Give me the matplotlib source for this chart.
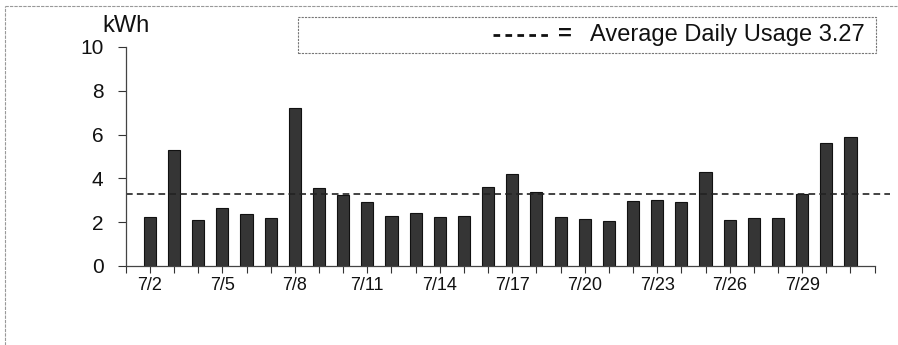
import matplotlib
matplotlib.use('Agg')
import matplotlib.pyplot as plt
from matplotlib.patches import Rectangle

# Dzienne zuzycie energii (kWh), lipiec
days = list(range(2, 32))
usage = [2.23, 5.30, 2.12, 2.65, 2.39, 2.20, 7.20, 3.56, 3.26, 2.91,
         2.27, 2.41, 2.24, 2.27, 3.62, 4.22, 3.36, 2.24, 2.15, 2.05,
         2.98, 3.03, 2.92, 4.30, 2.10, 2.20, 2.20, 3.30, 5.60, 5.90]
average = 3.27
label_days = [2, 5, 8, 11, 14, 17, 20, 23, 26, 29]
tick_labels = ['7/%d' % d for d in label_days]

plt.rcParams['font.family'] = ['Liberation Sans', 'DejaVu Sans']

fig = plt.figure(figsize=(8.98, 3.45), dpi=100)
ax = fig.add_axes([0.140, 0.229, 0.834, 0.635])

ax.bar(days, usage, width=0.5, color='#353535', edgecolor='#111111', linewidth=0.8)
ax.axhline(average, xmin=0, xmax=1.02, color='#222222', linestyle=(0, (4, 2.5)),
           linewidth=1.2, clip_on=False)

ax.set_xlim(1, 32)
ax.set_ylim(0, 10)
ax.set_yticks([0, 2, 4, 6, 8, 10])
ax.set_xticks(label_days)
ax.set_xticklabels(tick_labels)
ax.set_xticks(range(1, 33), minor=True)
ax.tick_params(axis='x', which='both', direction='out', length=5, width=0.8,
               colors='#333333', labelsize=13, labelcolor='#111111', pad=3)
ax.tick_params(axis='y', direction='out', length=6, width=0.8,
               colors='#333333', labelsize=15, labelcolor='#111111', pad=10)

for s in ['top', 'right']:
    ax.spines[s].set_visible(False)
for s in ['left', 'bottom']:
    ax.spines[s].set_color('#444444')
    ax.spines[s].set_linewidth(0.9)

fig.text(0.140, 0.925, 'kWh', fontsize=17, ha='center', va='center', color='#111111')

# ramka legendy
fig.patches.append(Rectangle((0.332, 0.846), 0.643, 0.104, transform=fig.transFigure,
                             fill=False, edgecolor='#777777', linewidth=0.8,
                             linestyle=(0, (2, 1))))
fig.add_artist(plt.Line2D([0.549, 0.611], [0.899, 0.899], transform=fig.transFigure,
                          color='#111111', linewidth=2.0, linestyle=(0, (2.4, 1.9))))
fig.text(0.629, 0.901, '=', fontsize=17, fontweight='bold', ha='center', va='center',
         color='#111111')
fig.text(0.963, 0.899, 'Average Daily Usage %.2f' % average, fontsize=17,
         ha='right', va='center', color='#111111')

# ramka skanu
fig.add_artist(plt.Line2D([0.006, 0.999], [0.983, 0.983], transform=fig.transFigure,
                          color='#999999', linewidth=0.8, linestyle=(0, (3, 1))))
fig.add_artist(plt.Line2D([0.006, 0.006], [0.0, 0.983], transform=fig.transFigure,
                          color='#999999', linewidth=0.8, linestyle=(0, (3, 1))))

fig.savefig('out.png', dpi=100)
